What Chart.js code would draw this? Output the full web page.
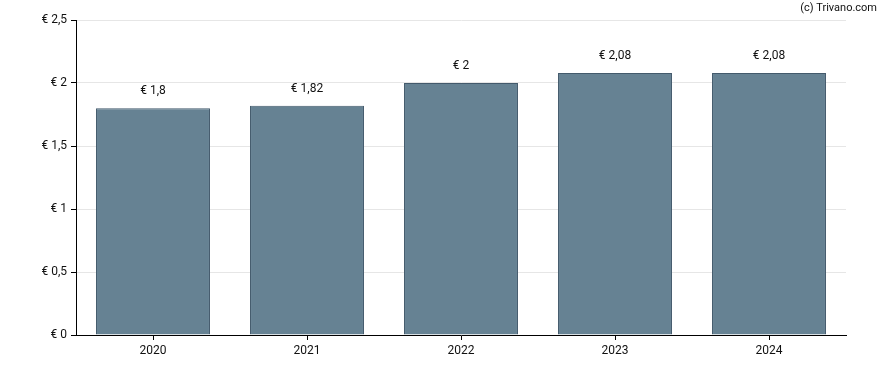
<!DOCTYPE html>
<html>
<head>
<meta charset="utf-8">
<script src="https://cdn.jsdelivr.net/npm/chart.js@4/dist/chart.umd.min.js"></script>
<style>
html,body{margin:0;padding:0;background:#fff;}
#wrap{width:888px;height:370px;position:relative;}
</style>
</head>
<body>
<div id="wrap"><canvas id="c" width="888" height="370"></canvas></div>
<script>
const categories = ['2020', '2021', '2022', '2023', '2024'];
const dividends = [1.8, 1.82, 2, 2.08, 2.08];
const yTicks = [0, 0.5, 1, 1.5, 2, 2.5];

function euro(v) {
  return '€ ' + String(v).replace('.', ',');
}

const labelPlugin = {
  id: 'labels',
  afterDatasetsDraw(chart) {
    const ctx = chart.ctx;
    const meta = chart.getDatasetMeta(0);
    ctx.save();
    ctx.font = '12px Roboto, "Liberation Sans", sans-serif';
    ctx.fillStyle = '#111';
    ctx.textAlign = 'center';
    ctx.textBaseline = 'middle';
    meta.data.forEach((bar, i) => {
      ctx.fillText(euro(dividends[i]), bar.x, bar.y - 17);
    });
    ctx.font = '11px Roboto, "Liberation Sans", sans-serif';
    ctx.textAlign = 'right';
    ctx.fillText('(c) Trivano.com', 877, 8);
    ctx.restore();
  }
};

new Chart(document.getElementById('c'), {
  type: 'bar',
  data: {
    labels: categories,
    datasets: [{
      data: dividends,
      backgroundColor: '#668293',
      borderColor: '#435a6c',
      borderWidth: 1,
      barPercentage: 0.74,
      categoryPercentage: 1
    }]
  },
  options: {
    responsive: false,
    animation: false,
    layout: { padding: { top: 20, right: 42, left: 0, bottom: 0 } },
    plugins: { legend: { display: false }, tooltip: { enabled: false } },
    scales: {
      x: {
        offset: true,
        grid: { drawOnChartArea: false, tickLength: 5, tickColor: '#000', offset: false },
        border: { color: '#000', width: 1 },
        ticks: { color: '#111', font: { size: 12, family: 'Roboto, "Liberation Sans", sans-serif' }, padding: 4 },
        afterFit(s) { s.height = 35; }
      },
      y: {
        min: 0,
        max: 2.5,
        afterBuildTicks(s) { s.ticks = yTicks.map(v => ({ value: v })); },
        grid: { color: '#e6e6e6', tickLength: 5, tickColor: '#000' },
        border: { color: '#000', width: 1 },
        ticks: {
          color: '#111',
          font: { size: 12, family: 'Roboto, "Liberation Sans", sans-serif' },
          padding: 4,
          callback: (v) => euro(v)
        },
        afterFit(s) { s.width = 76; }
      }
    }
  },
  plugins: [labelPlugin]
});
</script>
</body>
</html>
